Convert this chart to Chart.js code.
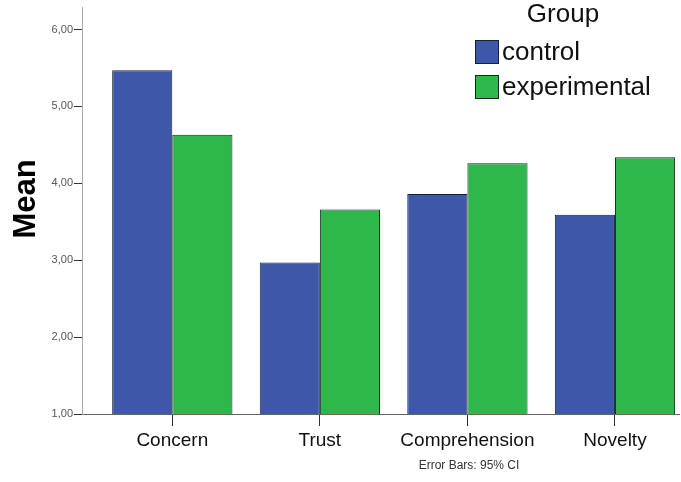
<!DOCTYPE html>
<html>
<head>
<meta charset="utf-8">
<title>Mean by Group</title>
<script src="https://cdn.jsdelivr.net/npm/chart.js@4.4.1/dist/chart.umd.min.js"></script>
<style>
  html, body { margin: 0; padding: 0; background: #fff; overflow: hidden; }
  #wrap { position: relative; width: 681px; height: 482px; }
</style>
</head>
<body>
<div id="wrap"><canvas id="chart"></canvas></div>
<script>
// -------- Data ----------
const categories = ["Concern", "Trust", "Comprehension", "Novelty"];
const controlMeans = [5.47, 2.97, 3.86, 3.59];
const experimentalMeans = [4.63, 3.66, 4.26, 4.34];
const yTickValues = [1, 2, 3, 4, 5, 6];
const groupNames = ["control", "experimental"];
const footnote = "Error Bars: 95% CI";

const BLUE = "#3e57a8";
const GREEN = "#2eb84b";
const EDGE = "#17222c";
const FONT = "Arial, 'Liberation Sans', sans-serif";

// comma decimals, SPSS style
function fmt(v) { return v.toFixed(2).replace(".", ","); }

function toPoints(arr) { return arr.map((v, i) => ({ x: i, y: v })); }

// legend + axis title + footnote drawn on top
const extras = {
  id: "extras",
  afterDraw(chart) {
    const ctx = chart.ctx;
    ctx.save();

    // "Mean" title
    ctx.fillStyle = "#000";
    ctx.font = "bold 31px " + FONT;
    ctx.textAlign = "center";
    ctx.textBaseline = "middle";
    ctx.translate(26, 199);
    ctx.rotate(-Math.PI / 2);
    ctx.fillText("Mean", 0, 0);
    ctx.setTransform(1, 0, 0, 1, 0, 0);

    // legend
    ctx.fillStyle = "#111";
    ctx.font = "26px " + FONT;
    ctx.textAlign = "center";
    ctx.fillText("Group", 563, 15);
    ctx.textAlign = "left";
    chart.data.datasets.forEach((ds, i) => {
      const y = 40 + i * 35;
      ctx.fillStyle = ds.backgroundColor;
      ctx.fillRect(475, y, 24, 24);
      ctx.strokeStyle = EDGE;
      ctx.lineWidth = 1;
      ctx.strokeRect(475.5, y + 0.5, 23, 23);
      ctx.fillStyle = "#111";
      ctx.fillText(ds.label, 502, y + 13);
    });

    // footnote
    ctx.fillStyle = "#333";
    ctx.font = "12px " + FONT;
    ctx.textAlign = "center";
    ctx.fillText(footnote, 469, 466);
    ctx.restore();
  }
};

const chart = new Chart(document.getElementById("chart"), {
  type: "bar",
  data: {
    datasets: [
      { label: groupNames[0], data: toPoints(controlMeans), backgroundColor: BLUE,
        borderColor: EDGE, borderWidth: 1 },
      { label: groupNames[1], data: toPoints(experimentalMeans), backgroundColor: GREEN,
        borderColor: EDGE, borderWidth: 1 }
    ]
  },
  options: {
    responsive: true,
    maintainAspectRatio: false,
    animation: false,
    categoryPercentage: 0.815,
    barPercentage: 1,
    layout: { padding: { top: 6, right: 2, left: 0, bottom: 0 } },
    plugins: { legend: { display: false }, tooltip: { enabled: false } },
    scales: {
      x: {
        type: "linear",
        min: -0.612,
        max: 3.434,
        offset: false,
        grid: { offset: false, drawOnChartArea: false, tickLength: 12, tickColor: "#333", tickWidth: 1 },
        border: { color: "#666", width: 1 },
        afterBuildTicks: s => { s.ticks = categories.map((c, i) => ({ value: i })); },
        afterFit: s => { s.height = 68; },
        ticks: {
          padding: 3,
          color: "#111",
          font: { family: FONT, size: 19 },
          maxRotation: 0,
          autoSkip: false,
          callback: v => categories[v] ?? ""
        }
      },
      y: {
        min: 1,
        max: 6.285,
        grid: { drawOnChartArea: false, tickLength: 8, tickColor: "#333", tickWidth: 1 },
        border: { color: "#aaa", width: 1 },
        afterBuildTicks: s => { s.ticks = yTickValues.map(v => ({ value: v })); },
        afterFit: s => { s.width = 82; },
        ticks: {
          padding: 1,
          color: "#555",
          font: { family: FONT, size: 11 },
          callback: v => fmt(v)
        }
      }
    }
  },
  plugins: [extras]
});
</script>
</body>
</html>
